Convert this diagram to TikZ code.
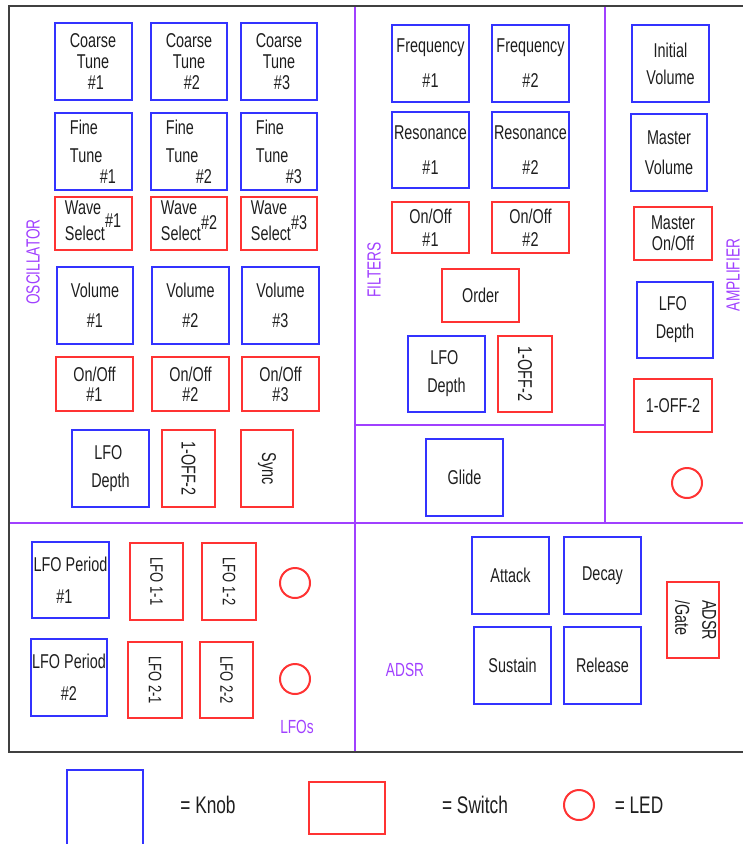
\documentclass[tikz,border=0pt]{standalone}
\usepackage{fontspec}
\setmainfont{Liberation Sans}[FakeStretch=0.72]
\usepackage{graphicx}
\usepackage{tikz}
\usetikzlibrary{positioning}
\definecolor{syblue}{HTML}{3333FF}
\definecolor{syred}{HTML}{FF3333}
\definecolor{syviolet}{HTML}{A040FF}
\definecolor{syframe}{HTML}{404040}
\definecolor{syink}{HTML}{1E1E1E}

\begin{document}
\begin{tikzpicture}[x=1pt,y=-1pt,
  knob/.style={draw=syblue,line width=2pt,outer sep=0pt,inner sep=0pt,minimum width=77pt,minimum height=77pt,
  align=center,text=syink,font=\fontsize{20}{21}\selectfont},
  swt/.style={knob,draw=syred,minimum height=53pt},
  swtup/.style={swt,minimum width=53pt,minimum height=77pt},
  led/.style={circle,draw=syred,line width=2pt,outer sep=0pt,inner sep=0pt,minimum size=30pt},
  sect/.style={text=syviolet,font=\fontsize{19}{21}\selectfont,inner sep=0pt},
  legend/.style={text=syink,font=\fontsize{24}{26}\selectfont,inner sep=0pt}]
\useasboundingbox (0,0) rectangle (743,844);
\clip (0,0) rectangle (743,844);
% section dividers and frame
\draw[syviolet,line width=2pt] (355,6) -- (355,752);\draw[syviolet,line width=2pt] (605,6) -- (605,523);
\draw[syviolet,line width=2pt] (9,523) -- (743,523);\draw[syviolet,line width=2pt] (355,425) -- (605,425);
\draw[syframe,line width=2.5pt] (743,6) -- (9,6) -- (9,752) -- (743,752);
% oscillator
\node[knob] (ct1) at (93,61.5) {Coarse\\Tune\\\hspace*{6pt}\#1};\node[knob,minimum width=76pt] (ct2) at (189,61.5) {Coarse\\Tune\\\hspace*{6pt}\#2};\node[knob,minimum width=76pt] (ct3) at (279,61.5) {Coarse\\Tune\\\hspace*{6pt}\#3};
\node[knob,align=left] (ft1) at (93,151.5) {Fine\\[7pt]Tune\\\hspace*{30pt}\#1};\node[knob,align=left,minimum width=76pt] (ft2) at (189,151.5) {Fine\\[7pt]Tune\\\hspace*{30pt}\#2};\node[knob,align=left,minimum width=76pt] (ft3) at (279,151.5) {Fine\\[7pt]Tune\\\hspace*{30pt}\#3};
\node[swt] (ws1) at (93,223.5) {\begin{tabular}{@{}l@{}}Wave\\[5pt]Select\end{tabular}\raisebox{1pt}{\#1}};\node[swt,minimum width=76pt] (ws2) at (189,223.5) {\begin{tabular}{@{}l@{}}Wave\\[5pt]Select\end{tabular}\raisebox{-1pt}{\#2}};\node[swt,minimum width=76pt] (ws3) at (279,223.5) {\begin{tabular}{@{}l@{}}Wave\\[5pt]Select\end{tabular}\raisebox{-1pt}{\#3}};
\node[knob,minimum width=76pt] (vol1) at (95,305.5) {Volume\\[9pt]\#1};\node[knob] (vol2) at (190.5,305.5) {Volume\\[9pt]\#2};\node[knob] (vol3) at (280.5,305.5) {Volume\\[9pt]\#3};
\node[swt,minimum height=54pt] (oo1) at (94.5,384) {On/Off\\[-1pt]\#1};\node[swt,minimum height=54pt] (oo2) at (190.5,384) {On/Off\\[-1pt]\#2};\node[swt,minimum height=54pt] (oo3) at (280.5,384) {On/Off\\[-1pt]\#3};
\node[knob,align=left] (olfo) at (110.5,468.5) {\hspace*{3pt}LFO\\[7pt]Depth};\node[swtup] (osel) at (188.5,468.5) {\rotatebox{-90}{1-OFF-2}};\node[swtup,minimum width=52pt] (osync) at (267,468.5) {\rotatebox{-90}{Sync}};
\node[sect,rotate=90] (osclab) at (33,262) {OSCILLATOR};
% filters
\node[knob] (fq1) at (430.5,63.5) {Frequency\\[14pt]\#1};\node[knob] (fq2) at (530.5,63.5) {Frequency\\[14pt]\#2};
\node[knob,minimum height=76pt] (rs1) at (430.5,150) {Resonance\\[14pt]\#1};\node[knob,minimum height=76pt] (rs2) at (530.5,150) {Resonance\\[14pt]\#2};
\node[swt,minimum height=51pt] (fo1) at (430.5,227.5) {On/Off\\[2pt]\#1};\node[swt,minimum height=51pt] (fo2) at (530.5,227.5) {On/Off\\[2pt]\#2};
\node[swt] (ford) at (480.5,295.5) {Order};
\node[knob,align=left,minimum height=76pt] (flfo) at (446.5,374) {\hspace*{3pt}LFO\\[7pt]Depth};\node[swtup,minimum width=54pt,minimum height=76pt] (fsel) at (525,374) {\rotatebox{-90}{1-OFF-2}};
\node[knob] (glide) at (464.5,477.5) {Glide};
\node[sect,rotate=90] (fltlab) at (374,270) {FILTERS};
% amplifier
\node[knob] (ivol) at (670.5,63.5) {Initial\\[6pt]Volume};\node[knob,minimum width=76pt] (mvol) at (669,152.5) {Master\\[9pt]Volume};
\node[swt,minimum width=78pt] (mon) at (673,233.5) {Master\\On/Off};
\node[knob,align=left,minimum width=76pt,minimum height=76pt] (alfo) at (675,320) {\hspace*{3pt}LFO\\[7pt]Depth};
\node[swt,minimum width=78pt] (asel) at (673,405.5) {1-OFF-2};
\node[led] (aled) at (687,483) {};
\node[sect,rotate=90] (amplab) at (733,275) {AMPLIFIER};
% lfos
\node[knob,minimum height=76pt] (lp1) at (70.5,580) {LFO Period\\[11pt]\#1\hspace*{12pt}};\node[knob,minimum width=76pt] (lp2) at (69,677.5) {LFO Period\\[11pt]\#2};
\node[swtup,font=\fontsize{18}{20}\selectfont] (s11) at (156.5,581.5) {\rotatebox{-90}{LFO 1-1}};\node[swtup,minimum width=54pt,font=\fontsize{18}{20}\selectfont] (s12) at (229,581.5) {\rotatebox{-90}{LFO 1-2}};
\node[swtup,minimum width=54pt,minimum height=76pt,font=\fontsize{18}{20}\selectfont] (s21) at (155,680) {\rotatebox{-90}{LFO 2-1}};\node[swtup,minimum height=76pt,font=\fontsize{18}{20}\selectfont] (s22) at (226.5,680) {\rotatebox{-90}{LFO 2-2}};
\node[led] (led1) at (295,583) {};\node[led] (led2) at (295,679) {};
\node[sect] (lfolab) at (297,727) {LFOs};
% adsr
\node[knob] (att) at (510.5,575.5) {Attack};\node[knob,right=15pt of att] (dec) {Decay};
\node[knob,below=13pt of att,xshift=2pt] (sus) {Sustain};\node[knob,right=13pt of sus] (rel) {Release};
\node[swtup,minimum width=52pt,minimum height=76pt] (gate) at (693,620) {\rotatebox{-90}{\begin{tabular}{@{}l@{}}ADSR\\[6pt]/Gate\end{tabular}}};
\node[sect] (adsrlab) at (405,670) {ADSR};
% legend
\node[knob,minimum width=76pt,minimum height=80pt] (kkey) at (105,810) {};\node[legend] (ktxt) at (208,805) {= Knob};
\node[swt,minimum width=76pt,minimum height=52pt] (skey) at (347,808) {};\node[legend] (stxt) at (475,805) {= Switch};
\node[led] (lkey) at (579,805) {};\node[legend] (ltxt) at (639,805) {= LED};
\end{tikzpicture}
\end{document}
